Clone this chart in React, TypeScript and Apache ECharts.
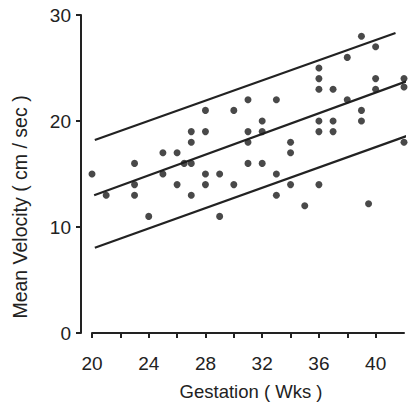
import React, { useEffect, useRef } from "react";
import * as echarts from "echarts";

const gestation = [20, 21, 23, 23, 23, 24, 25, 25, 26, 26, 26.5, 27, 27, 27, 27, 28, 28, 28, 28, 29, 29, 30, 30, 31, 31, 31, 31, 32, 32, 32, 33, 33, 33, 34, 34, 34, 35, 36, 36, 36, 36, 36, 36, 37, 37, 37, 38, 38, 39, 39, 39, 39.5, 40, 40, 40, 42, 42, 42];
const velocity = [15, 13, 16, 14, 13, 11, 17, 15, 17, 14, 16, 19, 18, 16, 13, 21, 19, 15, 14, 15, 11, 21, 14, 22, 19, 18, 16, 20, 19, 16, 22, 15, 13, 18, 17, 14, 12, 25, 24, 23, 20, 19, 14, 23, 20, 19, 26, 22, 28, 21, 20, 12.2, 27, 24, 23, 24, 23.2, 18];

const upperLine = [[20.2, 18.2], [41.4, 28.3]];
const meanLine = [[20.15, 13.0], [42.3, 23.8]];
const lowerLine = [[20.2, 8.05], [42.75, 18.85]];

const xTicks = [20, 22, 24, 26, 28, 30, 32, 34, 36, 38, 40];
const xLabels = [20, 24, 28, 32, 36, 40];
const yTicks = [0, 10, 20, 30];

const FONT = "Liberation Sans";
const INK = "#222";

export default function App() {
  const ref = useRef<HTMLDivElement>(null);
  useEffect(() => {
    const chart = echarts.init(ref.current!, null, { renderer: "svg" });
    const lineSeries = (data: number[][]) => ({
      type: "line",
      data,
      symbol: "none",
      clip: false,
      lineStyle: { color: INK, width: 2.2 },
      z: 2,
    });
    chart.setOption({
      animation: false,
      backgroundColor: "#fff",
      grid: { left: 92, right: 11, top: 15, bottom: 71 },
      xAxis: {
        type: "value",
        min: 20,
        max: 42,
        offset: 9,
        splitLine: { show: false },
        axisLine: { show: true, lineStyle: { color: INK, width: 2 } },
        axisTick: { show: true, length: 5, customValues: xTicks, lineStyle: { color: INK, width: 2 } },
        axisLabel: { customValues: xLabels, margin: 12, fontSize: 19, fontFamily: FONT, color: INK },
      },
      yAxis: {
        type: "value",
        min: 0,
        max: 30,
        interval: 10,
        offset: 11,
        splitLine: { show: false },
        axisLine: { show: true, lineStyle: { color: INK, width: 2 } },
        axisTick: { show: true, length: 5, customValues: yTicks, lineStyle: { color: INK, width: 2 } },
        axisLabel: { margin: 10, fontSize: 19, fontFamily: FONT, color: INK },
      },
      series: [
        lineSeries(upperLine),
        lineSeries(meanLine),
        lineSeries(lowerLine),
        {
          type: "scatter",
          data: gestation.map((g, i) => [g, velocity[i]]),
          symbol: "circle",
          symbolSize: 7,
          itemStyle: { color: "#1c1c1c" },
          z: 3,
        },
      ],
      graphic: [
        {
          type: "text",
          x: 251,
          y: 391,
          style: {
            text: "Gestation ( Wks )",
            fontSize: 18.5,
            fontFamily: FONT,
            fill: INK,
            textAlign: "center",
            textVerticalAlign: "middle",
          },
        },
        {
          type: "text",
          x: 20,
          y: 207,
          rotation: Math.PI / 2,
          style: {
            text: "Mean Velocity ( cm / sec )",
            fontSize: 19.5,
            fontFamily: FONT,
            fill: INK,
            textAlign: "center",
            textVerticalAlign: "middle",
          },
        },
      ],
    });
    return () => chart.dispose();
  }, []);
  return <div ref={ref} style={{ position: "fixed", left: 0, top: 0, width: 415, height: 404 }} />;
}
